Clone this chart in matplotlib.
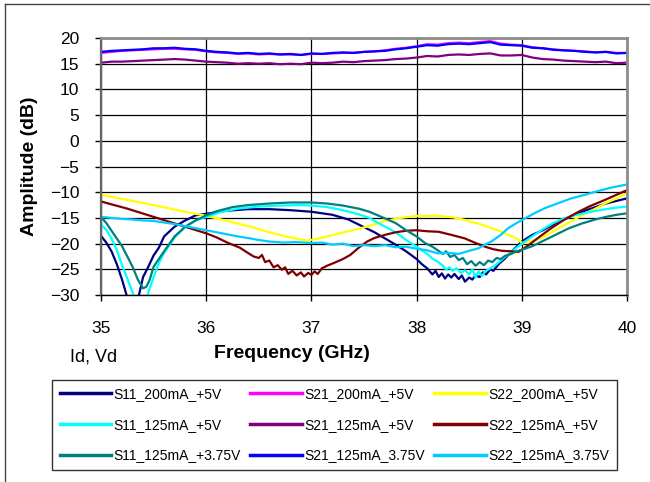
import matplotlib
matplotlib.use('Agg')
import matplotlib.pyplot as plt
from matplotlib.lines import Line2D

plt.rcParams['font.family'] = ['Liberation Sans', 'DejaVu Sans']

# frequency grid used for the gain (S21) traces
FREQ_S21 = [35.0, 35.1, 35.2, 35.3, 35.4, 35.5, 35.6, 35.7, 35.8, 35.9,
            36.0, 36.1, 36.2, 36.3, 36.4, 36.5, 36.6, 36.7, 36.8, 36.9,
            37.0, 37.1, 37.2, 37.3, 37.4, 37.5, 37.6, 37.7, 37.8, 37.9,
            38.0, 38.1, 38.2, 38.3, 38.4, 38.5, 38.6, 38.7, 38.8, 38.9,
            39.0, 39.1, 39.2, 39.3, 39.4, 39.5, 39.6, 39.7, 39.8, 39.9, 40.0]

S21_200_5 = [17.1, 17.3, 17.5, 17.6, 17.7, 17.8, 17.9, 17.9, 17.8, 17.7,
             17.4, 17.2, 17.1, 16.9, 17.0, 16.8, 16.9, 16.8, 16.8, 16.7,
             16.9, 16.9, 17.0, 17.1, 17.1, 17.3, 17.4, 17.6, 17.9, 18.1,
             18.4, 18.8, 18.7, 19.0, 19.1, 19.0, 19.2, 19.4, 18.9, 18.7,
             18.6, 18.2, 18.0, 17.8, 17.6, 17.5, 17.4, 17.2, 17.3, 17.1, 17.1]

S21_125_5 = [15.2, 15.4, 15.4, 15.5, 15.6, 15.7, 15.8, 15.9, 15.8, 15.6,
             15.4, 15.3, 15.2, 15.0, 15.1, 15.0, 15.1, 14.9, 15.0, 14.9,
             15.2, 15.1, 15.2, 15.4, 15.3, 15.5, 15.6, 15.7, 15.9, 16.0,
             16.2, 16.5, 16.4, 16.7, 16.8, 16.7, 16.9, 17.0, 16.6, 16.6,
             16.7, 16.2, 15.9, 15.8, 15.6, 15.5, 15.4, 15.3, 15.4, 15.1, 15.2]

S21_125_375 = [17.3, 17.5, 17.6, 17.7, 17.8, 18.0, 18.0, 18.1, 17.9, 17.8,
               17.5, 17.3, 17.2, 17.0, 17.1, 16.9, 17.0, 16.8, 16.9, 16.7,
               17.0, 16.9, 17.1, 17.2, 17.1, 17.3, 17.4, 17.5, 17.8, 18.0,
               18.3, 18.6, 18.5, 18.8, 18.9, 18.8, 19.0, 19.2, 18.7, 18.6,
               18.5, 18.1, 18.0, 17.7, 17.6, 17.5, 17.3, 17.2, 17.3, 17.0, 17.1]

# input match traces
FREQ_S11_200_5 = [35.0, 35.05, 35.1, 35.15, 35.2, 35.25, 35.3, 35.35, 35.4, 35.45,
                  35.5, 35.55, 35.6, 35.7, 35.8, 35.9, 36.0, 36.2, 36.4, 36.6,
                  36.8, 37.0, 37.2, 37.35, 37.5, 37.6, 37.7, 37.8, 37.9, 38.0,
                  38.05, 38.1, 38.15, 38.18, 38.21, 38.24, 38.27, 38.3, 38.33, 38.36,
                  38.4, 38.43, 38.46, 38.5, 38.53, 38.56, 38.6, 38.63, 38.66, 38.7,
                  38.73, 38.78, 38.84, 38.9, 39.0, 39.1, 39.2, 39.35, 39.5, 39.6,
                  39.8, 39.9, 40.0]
S11_200_5 = [-18.5, -19.8, -21.5, -24.0, -27.0, -30.5, -33.5, -31.0, -26.5, -24.5,
             -22.3, -20.8, -18.6, -16.7, -15.5, -14.5, -14.2, -13.6, -13.3, -13.3,
             -13.5, -13.8, -14.4, -15.3, -16.8, -17.8, -19.0, -20.2, -21.5, -23.0,
             -24.0, -24.8, -26.0, -25.3, -26.5, -25.8, -26.8, -26.0, -26.6, -25.9,
             -26.9, -26.2, -27.4, -26.6, -27.0, -26.2, -26.5, -25.6, -26.0, -25.0,
             -25.3, -24.0, -22.9, -21.6, -19.6, -18.3, -17.4, -15.7, -14.4, -13.6,
             -12.2, -11.7, -11.2]

FREQ_S11_125_5 = [35.0, 35.05, 35.1, 35.15, 35.2, 35.25, 35.3, 35.35, 35.4, 35.45,
                  35.5, 35.55, 35.6, 35.7, 35.8, 35.9, 36.0, 36.15, 36.3, 36.5,
                  36.7, 36.9, 37.0, 37.15, 37.3, 37.45, 37.55, 37.7, 37.8, 37.9,
                  38.0, 38.05, 38.1, 38.15, 38.2, 38.25, 38.28, 38.31, 38.34, 38.38,
                  38.42, 38.46, 38.5, 38.53, 38.56, 38.59, 38.62, 38.66, 38.7, 38.75,
                  38.8, 38.9, 39.0, 39.1, 39.2, 39.3, 39.4, 39.5, 39.66, 39.8,
                  39.9, 40.0]
S11_125_5 = [-16.3, -17.3, -19.0, -21.2, -24.2, -26.8, -29.5, -33.0, -33.0, -29.5,
             -26.5, -23.8, -21.8, -18.8, -16.8, -15.5, -14.8, -13.8, -13.2, -12.8,
             -12.6, -12.5, -12.6, -12.9, -13.5, -14.3, -15.0, -16.7, -17.8, -19.3,
             -20.6, -21.3, -22.0, -22.9, -23.5, -24.3, -25.1, -24.6, -25.3, -24.8,
             -25.7, -25.2, -26.0, -25.0, -26.6, -25.4, -26.3, -25.3, -24.8, -24.2,
             -23.3, -21.6, -20.0, -18.6, -17.2, -16.0, -15.1, -14.5, -13.8, -13.3,
             -13.0, -12.8]

FREQ_S11_125_375 = [35.0, 35.05, 35.1, 35.15, 35.2, 35.25, 35.3, 35.35, 35.4, 35.43,
                    35.46, 35.5, 35.55, 35.6, 35.7, 35.8, 35.9, 36.0, 36.1, 36.25,
                    36.4, 36.6, 36.8, 37.0, 37.15, 37.3, 37.45, 37.55, 37.7, 37.8,
                    37.9, 38.0, 38.08, 38.15, 38.2, 38.25, 38.28, 38.32, 38.36, 38.4,
                    38.44, 38.48, 38.52, 38.56, 38.6, 38.64, 38.68, 38.72, 38.76, 38.8,
                    38.84, 38.9, 38.95, 39.0, 39.1, 39.16, 39.25, 39.35, 39.45, 39.57,
                    39.7, 39.8, 39.9, 40.0]
S11_125_375 = [-14.8, -16.0, -17.5, -19.0, -20.5, -22.5, -24.5, -27.0, -28.7, -28.4,
               -27.2, -24.5, -23.0, -21.5, -18.6, -16.7, -15.5, -14.5, -13.7, -12.9,
               -12.5, -12.2, -12.0, -12.0, -12.2, -12.6, -13.2, -13.8, -15.1, -16.0,
               -17.4, -18.6, -19.9, -20.6, -21.3, -22.0, -21.5, -22.6, -22.2, -23.2,
               -22.8, -24.0, -23.4, -24.3, -23.6, -24.2, -23.3, -23.6, -22.8, -23.0,
               -22.4, -22.0, -21.5, -21.2, -20.5, -19.9, -19.0, -18.0, -17.0, -16.1,
               -15.3, -14.8, -14.4, -14.1]

# output match traces
FREQ_S22_200_5 = [35.0, 35.25, 35.5, 35.75, 36.0, 36.2, 36.42, 36.6, 36.77, 36.9,
                  36.96, 37.05, 37.21, 37.35, 37.53, 37.7, 37.85, 38.0, 38.2, 38.35,
                  38.46, 38.6, 38.71, 38.8, 38.87, 38.93, 38.97, 39.01, 39.05, 39.16,
                  39.25, 39.35, 39.45, 39.57, 39.7, 39.79, 39.9, 40.0]
S22_200_5 = [-10.5, -11.5, -12.5, -13.6, -14.6, -15.6, -16.7, -17.8, -18.7, -19.2,
             -19.4, -19.1, -18.3, -17.6, -16.7, -15.6, -15.0, -14.6, -14.6, -14.9,
             -15.4, -16.2, -17.0, -17.6, -18.3, -18.8, -19.3, -20.0, -19.6, -19.2,
             -18.2, -17.0, -15.9, -14.5, -13.2, -12.2, -11.2, -10.2]

FREQ_S22_125_5 = [35.0, 35.25, 35.5, 35.75, 36.0, 36.1, 36.2, 36.26, 36.32, 36.38,
                  36.45, 36.5, 36.53, 36.56, 36.6, 36.64, 36.68, 36.72, 36.75, 36.78,
                  36.82, 36.86, 36.9, 36.93, 36.97, 37.0, 37.03, 37.06, 37.1, 37.15,
                  37.21, 37.3, 37.37, 37.45, 37.53, 37.6, 37.7, 37.8, 37.9, 38.0,
                  38.1, 38.21, 38.33, 38.46, 38.55, 38.65, 38.73, 38.81, 38.9, 38.97,
                  39.03, 39.09, 39.18, 39.28, 39.4, 39.54, 39.65, 39.79, 39.9, 40.0]
S22_125_5 = [-11.8, -13.2, -14.8, -16.4, -18.0, -18.8, -19.8, -20.3, -20.8, -21.6,
             -22.5, -22.8, -22.2, -23.6, -23.3, -24.6, -24.2, -25.1, -24.6, -25.9,
             -25.3, -26.2, -25.6, -26.4, -25.7, -26.1, -25.4, -25.9, -24.8, -24.3,
             -23.8, -23.0, -22.2, -20.8, -19.6, -18.9, -18.3, -17.8, -17.5, -17.4,
             -17.6, -17.7, -18.3, -19.0, -19.8, -20.6, -21.1, -21.4, -21.5, -21.6,
             -20.8, -19.9, -18.5, -17.0, -15.4, -13.8, -12.7, -11.5, -10.5, -9.6]

FREQ_S22_125_375 = [35.0, 35.1, 35.2, 35.3, 35.4, 35.5, 35.6, 35.7, 35.8, 35.9,
                    36.0, 36.1, 36.2, 36.3, 36.42, 36.5, 36.6, 36.74, 36.85, 37.0,
                    37.1, 37.2, 37.3, 37.4, 37.5, 37.6, 37.7, 37.8, 37.9, 38.0,
                    38.1, 38.2, 38.3, 38.4, 38.5, 38.59, 38.65, 38.71, 38.8, 38.87,
                    38.95, 39.03, 39.12, 39.22, 39.35, 39.47, 39.6, 39.72, 39.85, 40.0]
S22_125_375 = [-14.8, -15.0, -15.2, -15.3, -15.5, -15.6, -15.9, -16.2, -16.6, -17.0,
               -17.4, -17.8, -18.2, -18.6, -19.0, -19.3, -19.6, -19.8, -19.7, -19.9,
               -19.8, -20.2, -20.0, -20.5, -20.3, -20.5, -20.3, -20.7, -20.6, -21.0,
               -21.3, -21.9, -21.8, -22.0, -21.4, -20.9, -20.2, -19.6, -18.3, -17.0,
               -16.0, -15.1, -14.1, -13.1, -12.1, -11.2, -10.5, -9.8, -9.1, -8.5]

X_TICKS = [35, 36, 37, 38, 39, 40]
Y_TICKS = [-30, -25, -20, -15, -10, -5, 0, 5, 10, 15, 20]

# series in the order they are drawn (label, x, y, colour)
SERIES = [
    ('S11_200mA_+5V', FREQ_S11_200_5, S11_200_5, '#000080'),
    ('S21_200mA_+5V', FREQ_S21, S21_200_5, '#ff00ff'),
    ('S22_200mA_+5V', FREQ_S22_200_5, S22_200_5, '#ffff00'),
    ('S11_125mA_+5V', FREQ_S11_125_5, S11_125_5, '#00ffff'),
    ('S21_125mA_+5V', FREQ_S21, S21_125_5, '#800080'),
    ('S22_125mA_+5V', FREQ_S22_125_5, S22_125_5, '#800000'),
    ('S11_125mA_+3.75V', FREQ_S11_125_375, S11_125_375, '#008080'),
    ('S21_125mA_3.75V', FREQ_S21, S21_125_375, '#0000ff'),
    ('S22_125mA_3.75V', FREQ_S22_125_375, S22_125_375, '#00ccff'),
]

fig = plt.figure(figsize=(6.5, 4.82), dpi=100)
ax = fig.add_axes([101 / 650, 1 - 295 / 482, 526 / 650, 257 / 482])

handles = []
for label, xs, ys, col in SERIES:
    ln, = ax.plot(xs, ys, color=col, lw=1.6, label=label)
    handles.append(ln)

ax.set_xlim(35, 40)
ax.set_ylim(-30, 20)
ax.set_xticks(X_TICKS)
ax.set_yticks(Y_TICKS)
ax.tick_params(axis='y', direction='out', length=4, width=1, pad=11.5,
               labelsize=12.5, colors='black')
ax.tick_params(axis='x', direction='out', length=4, width=1, pad=15,
               labelsize=12.5, colors='black')
ax.grid(True, color='black', lw=0.9)
ax.set_axisbelow(True)

# excel-ish frame: gray top/right, darker left/bottom
ax.spines['top'].set_color('#8c8c8c')
ax.spines['top'].set_linewidth(2)
ax.spines['right'].set_color('#8c8c8c')
ax.spines['right'].set_linewidth(2)
ax.spines['left'].set_color('#666666')
ax.spines['left'].set_linewidth(1.6)
ax.spines['bottom'].set_color('black')
ax.spines['bottom'].set_linewidth(1)

# axis titles placed by hand to match the original layout
fig.text(30 / 650, 1 - 166 / 482, 'Amplitude (dB)', rotation=90, fontsize=14,
         fontweight='bold', ha='center', va='center')
fig.text(292 / 650, 1 - 354 / 482, 'Frequency (GHz)', fontsize=14,
         fontweight='bold', ha='center', va='center')
fig.text(94 / 650, 1 - 357 / 482, 'Id, Vd', fontsize=13, ha='center', va='center')

# legend rows in the original read across, so feed it column by column
order = [0, 3, 6, 1, 4, 7, 2, 5, 8]
leg = fig.legend([handles[i] for i in order], [SERIES[i][0] for i in order],
                 loc='upper left', bbox_to_anchor=(52 / 650, 1 - 380 / 482,
                                                   565 / 650, 0.001),
                 mode='expand', ncol=3, fontsize=10, frameon=True,
                 fancybox=False, edgecolor='#333333', framealpha=1,
                 handlelength=3.7, handletextpad=0.2, labelspacing=1.2,
                 borderpad=0.55, columnspacing=0.8, borderaxespad=0)
leg.get_frame().set_linewidth(1)
for h in leg.legend_handles:
    h.set_linewidth(2.5)

# thin outer frame on the left and top edge of the picture
fig.add_artist(Line2D([5 / 650, 5 / 650], [0, 1 - 4 / 482], color='#444444',
                      lw=1, transform=fig.transFigure))
fig.add_artist(Line2D([5 / 650, 1], [1 - 4 / 482, 1 - 4 / 482], color='#444444',
                      lw=1, transform=fig.transFigure))

fig.savefig('out.png', dpi=100)
